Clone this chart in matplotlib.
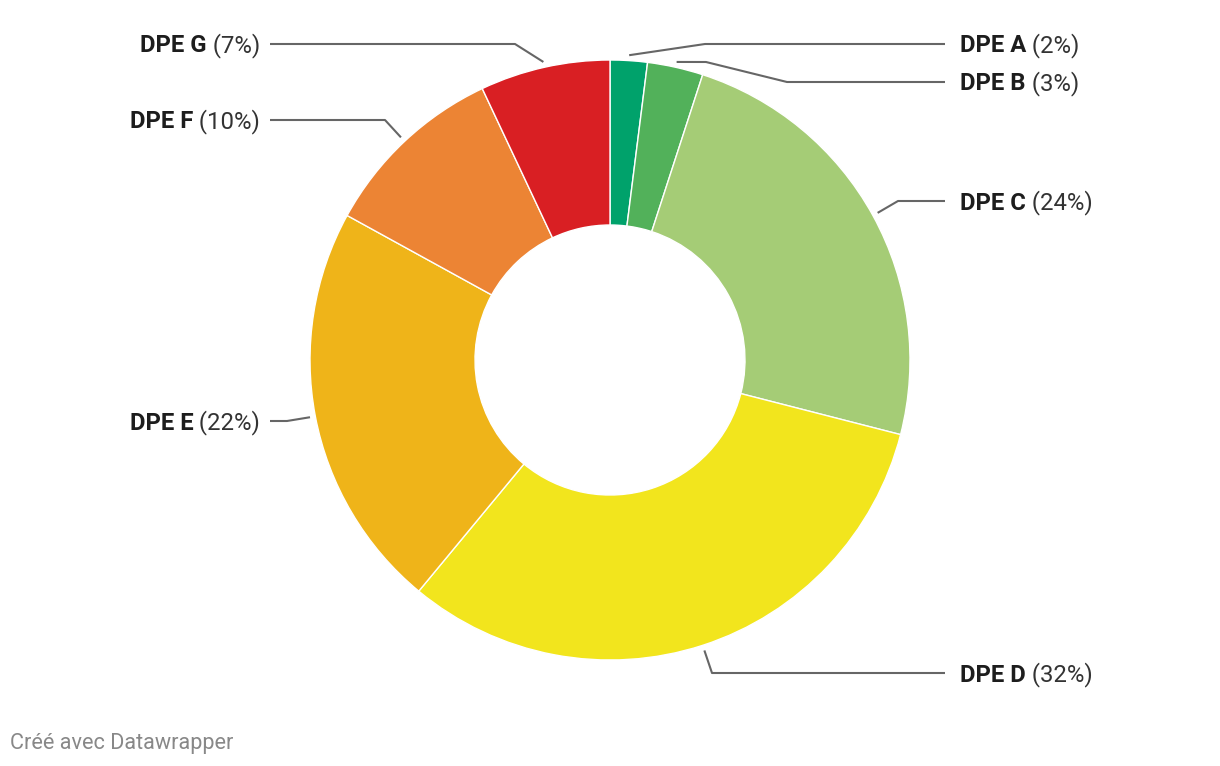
import matplotlib
matplotlib.use("Agg")
import matplotlib.pyplot as plt
import numpy as np

# data
labels = ["DPE A", "DPE B", "DPE C", "DPE D", "DPE E", "DPE F", "DPE G"]
values = [2, 3, 24, 32, 22, 10, 7]
colors = ["#00a26b", "#52b15a", "#a5cc76", "#f2e51d", "#efb419", "#ec8434", "#d91f23"]

# layout (pixels): label centre y, and the bend points of each leader line
W, H = 1220, 766
CX, CY, R = 610, 360, 300
label_y = [44, 82, 201, 673, 421, 120, 44]
bends = [
    [(705, 44)],
    [(706, 62), (787, 82)],
    [(898, 201)],
    [(712, 673)],
    [(287, 421)],
    [(385, 120)],
    [(515, 44)],
]
right_x, left_x = 945, 270
text_right, text_left = 960, 260
FS = 17.2
base_off = 8.5  # baseline below label centre, px

plt.rcParams["font.family"] = ["Roboto", "DejaVu Sans"]

fig = plt.figure(figsize=(W / 100, H / 100), dpi=100)
ax = fig.add_axes([0, 0, 1, 1])


def px(x, y):
    return (x - CX) / R, (CY - y) / R


wedges, _ = ax.pie(values, colors=colors, startangle=90, counterclock=False,
                   radius=1, wedgeprops=dict(width=0.55, edgecolor="white", linewidth=1))
ax.set_xlim(-CX / R, (W - CX) / R)
ax.set_ylim(-(H - CY) / R, CY / R)
ax.set_aspect("equal")
ax.axis("off")

renderer = fig.canvas.get_renderer()
total = sum(values)
cum = 0
for i, (lab, v) in enumerate(zip(labels, values)):
    mid = (cum + v / 2) / total * 2 * np.pi
    cum += v
    sx, sy = 1.018 * np.sin(mid), 1.018 * np.cos(mid)
    right = np.sin(mid) > 0
    pts = [(sx, sy)] + [px(*b) for b in bends[i]]
    pts.append(px(right_x if right else left_x, label_y[i]))
    xs, ys = zip(*pts)
    ax.plot(xs, ys, color="#666666", lw=1.5, solid_capstyle="butt")

    pct = " (%d%%)" % v
    ty = px(0, label_y[i] + base_off)[1]
    if right:
        t1 = ax.text(px(text_right, 0)[0], ty, lab, fontsize=FS, fontweight="bold",
                     color="#1d1d1d", ha="left", va="baseline")
        bb = t1.get_window_extent(renderer)
        xr = ax.transData.inverted().transform((bb.x1, bb.y0))[0]
        ax.text(xr, ty, pct, fontsize=FS, color="#333333", ha="left", va="baseline")
    else:
        t2 = ax.text(px(text_left, 0)[0], ty, pct, fontsize=FS, color="#333333",
                     ha="right", va="baseline")
        bb = t2.get_window_extent(renderer)
        xl = ax.transData.inverted().transform((bb.x0, bb.y0))[0]
        ax.text(xl, ty, lab, fontsize=FS, fontweight="bold", color="#1d1d1d",
                ha="right", va="baseline")

fig.text(10 / W, 1 - 749 / H, "Créé avec Datawrapper", fontsize=15.6, color="#888888",
         ha="left", va="baseline")

fig.savefig("out.png", dpi=100)
